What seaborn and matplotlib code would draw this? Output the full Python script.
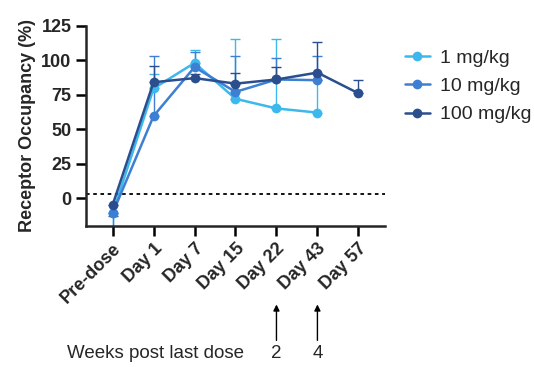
import numpy as np
import pandas as pd
import matplotlib
matplotlib.use("Agg")
import matplotlib.pyplot as plt
import seaborn as sns

# values
days = ["Pre-dose", "Day 1", "Day 7", "Day 15", "Day 22", "Day 43", "Day 57"]
doses = ["1 mg/kg", "10 mg/kg", "100 mg/kg"]
colors = ["#3db8ec", "#3d7fd3", "#2b4e8e"]

ro_1mg = [-11, 79.5, 98, 72, 65, 62, np.nan]
ro_10mg = [-11, 59.5, 95, 77, 86, 85.5, np.nan]
ro_100mg = [-5, 84, 87, 83, 86, 91, 76]

err_up_1mg = [0, 10.5, 9.3, 43.6, 50, 23.5, 0]
err_up_10mg = [0, 43.6, 10.6, 26, 15.7, 17.5, 0]
err_up_100mg = [0, 12, 3, 7.4, 9.2, 22.2, 9.3]
err_lo_1mg = [10, 0, 0, 0, 0, 0, 0]
err_lo_10mg = [12, 0, 0, 0, 0, 0, 0]
err_lo_100mg = [8, 0, 0, 0, 0, 0, 0]

baseline = 3
weeks_days = ["Day 22", "Day 43"]
weeks_labels = ["2", "4"]

means = [ro_1mg, ro_10mg, ro_100mg]
err_up = [err_up_1mg, err_up_10mg, err_up_100mg]
err_lo = [err_lo_1mg, err_lo_10mg, err_lo_100mg]

rows = []
for dose, vals in zip(doses, means):
    for day, v in zip(days, vals):
        if not np.isnan(v):
            rows.append({"day": day, "dose": dose, "ro": v})
df = pd.DataFrame(rows)

sns.set_style("ticks")
plt.rcParams["font.family"] = ["Liberation Sans", "DejaVu Sans"]

fig = plt.figure(figsize=(5.34, 3.67), dpi=100)
ax = fig.add_axes([0.161, 0.385, 0.560, 0.545])

pos = {d: i for i, d in enumerate(days)}
for vals, up, lo, c in zip(means, err_up, err_lo, colors):
    x = [pos[d] for d, v in zip(days, vals) if not np.isnan(v)]
    y = [v for v in vals if not np.isnan(v)]
    u = [e for e, v in zip(up, vals) if not np.isnan(v)]
    l = [e for e, v in zip(lo, vals) if not np.isnan(v)]
    ax.errorbar(x, y, yerr=[l, u], fmt="none", ecolor=c, elinewidth=1.0,
                capsize=3.5, capthick=1.0, zorder=1)

df["x"] = df["day"].map(pos)
sns.lineplot(data=df, x="x", y="ro", hue="dose", hue_order=doses,
             palette=colors, marker="o", markersize=7, markeredgewidth=0,
             linewidth=1.8, sort=False, ax=ax, legend=True, zorder=3)

ax.axhline(baseline, color="black", linestyle=(0, (2, 2)), linewidth=1.3, zorder=0)

ax.set_xlim(-0.65, 6.65)
ax.set_ylim(-20, 125)
ax.set_yticks([0, 25, 50, 75, 100, 125])
ax.set_xticks(range(len(days)))
ax.set_xticklabels(days, rotation=45, ha="right", va="top",
                   rotation_mode="anchor", fontweight="bold", fontsize=13)
for lab in ax.get_yticklabels():
    lab.set_fontweight("bold")
    lab.set_fontsize(13)
ax.set_xlabel("")
ax.set_ylabel("Receptor Occupancy (%)", fontweight="bold", fontsize=13)
sns.despine(ax=ax)
for s in ["left", "bottom"]:
    ax.spines[s].set_linewidth(1.8)
ax.tick_params(width=1.8, length=7, color="black")

handles, labels = ax.get_legend_handles_labels()
ax.legend_.remove()
fig.legend(handles, labels, loc="upper left", bbox_to_anchor=(0.758, 0.866),
           frameon=False, fontsize=14, handlelength=1.3, handletextpad=0.5,
           labelspacing=0.55, borderpad=0, borderaxespad=0)

# weeks post last dose annotations
blend = ("data", "figure fraction")
for d, w in zip(weeks_days, weeks_labels):
    ax.annotate("", xy=(pos[d], 0.178), xycoords=blend,
                xytext=(pos[d], 0.065), textcoords=blend,
                arrowprops=dict(arrowstyle="-|>", color="black", lw=1.0,
                                mutation_scale=9), annotation_clip=False)
    ax.annotate(w, xy=(pos[d], 0.037), xycoords=blend, ha="center",
                va="center", fontsize=13.5, annotation_clip=False)
fig.text(0.125, 0.037, "Weeks post last dose", ha="left", va="center", fontsize=13.5)

fig.savefig("out.png", dpi=100)
